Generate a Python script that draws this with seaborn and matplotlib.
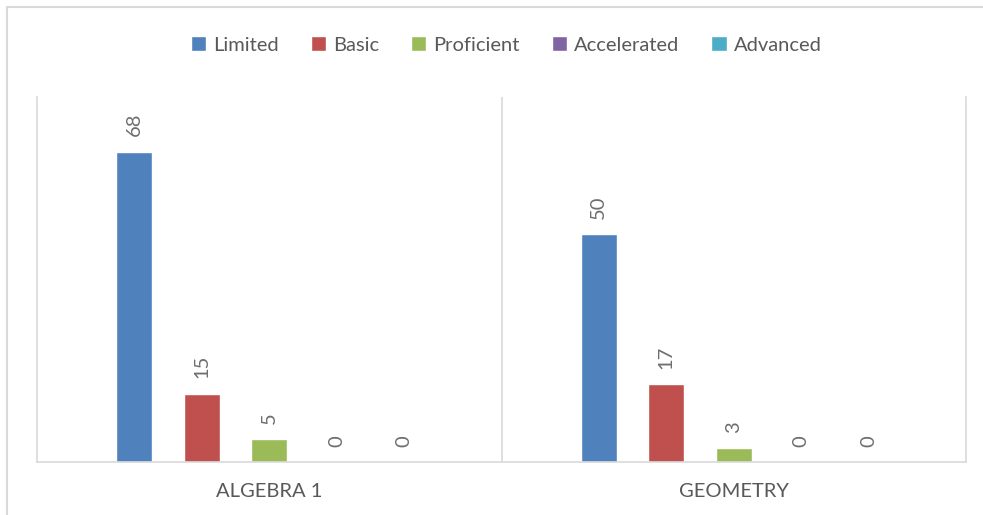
import matplotlib
matplotlib.use("Agg")
import matplotlib.pyplot as plt
import seaborn as sns
import pandas as pd
from matplotlib.patches import Rectangle

categories = ["ALGEBRA 1", "GEOMETRY"]
series = ["Limited", "Basic", "Proficient", "Accelerated", "Advanced"]
algebra_values = [68, 15, 5, 0, 0]
geometry_values = [50, 17, 3, 0, 0]
colors = ["#4F81BD", "#C0504D", "#9BBB59", "#8064A2", "#4BACC6"]

rows = []
for s, a, g in zip(series, algebra_values, geometry_values):
    rows.append({"Category": categories[0], "Level": s, "Count": a})
    rows.append({"Category": categories[1], "Level": s, "Count": g})
df = pd.DataFrame(rows)

sns.set_theme(style="white")
plt.rcParams["font.family"] = ["Lato", "DejaVu Sans"]

fig = plt.figure(figsize=(9.83, 5.15), dpi=100)
ax = fig.add_axes([37/983, 1-462/515, (966-37)/983, (462-97)/515])

sns.barplot(data=df, x="Category", y="Count", hue="Level", order=categories,
            hue_order=series, palette=colors, width=0.727, gap=0.467,
            saturation=1, ax=ax, legend=True)

for cont in ax.containers:
    ax.bar_label(cont, rotation=90, padding=11, color="#6E6E6E", fontsize=14.5)

ax.set_ylim(0, 80)
ax.set_xlim(-0.5, 1.5)
ax.set_yticks([])
ax.set_xlabel("")
ax.set_ylabel("")
ax.tick_params(axis="x", length=0, pad=15, labelsize=14.5, labelcolor="#595959")
ax.axvline(0.5, color="#D9D9D9", lw=1.2, zorder=0)
ax.spines["top"].set_visible(False)
for sp in ["left", "right", "bottom"]:
    ax.spines[sp].set_color("#D9D9D9")
    ax.spines[sp].set_linewidth(1.2)

handles, labels = ax.get_legend_handles_labels()
ax.get_legend().remove()
fig.legend(handles, labels, loc="center", bbox_to_anchor=(506/983, 1-45/515), ncol=5,
           frameon=False, fontsize=14.5, handlelength=0.75, handleheight=0.75,
           handletextpad=0.35, columnspacing=1.6, labelcolor="#595959")

fig.add_artist(Rectangle((7/983, -0.1), 1.2, 1-7/515+0.1, transform=fig.transFigure,
                         fill=False, edgecolor="#D9D9D9", lw=1.5))

fig.savefig("out.png", dpi=100, facecolor="white")
